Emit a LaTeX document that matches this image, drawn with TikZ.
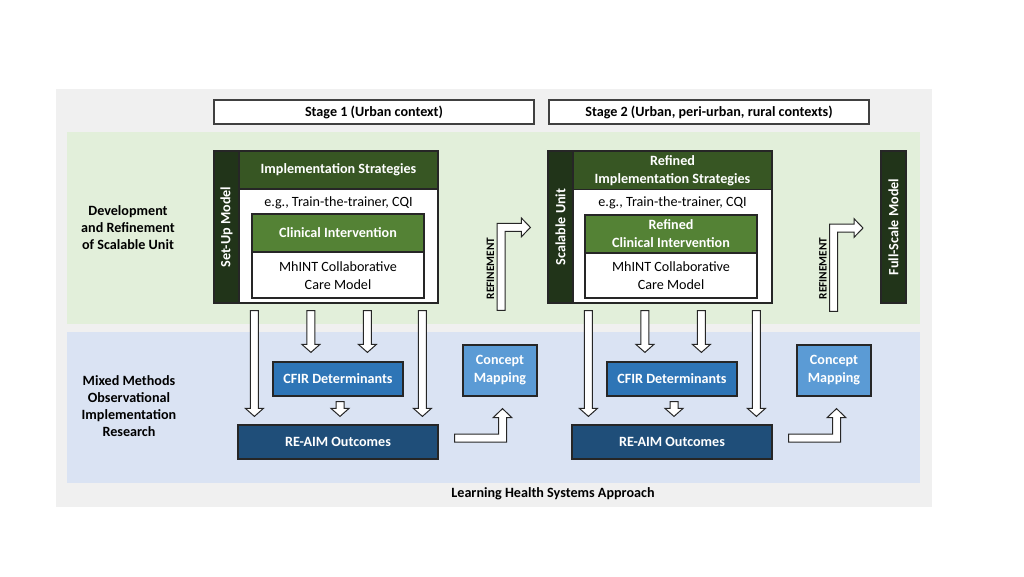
\documentclass[tikz,border=0pt]{standalone}
\usepackage{fontspec}
\setmainfont{Carlito}
\usetikzlibrary{calc}
\definecolor{panelgray}{RGB}{240,240,240}
\definecolor{bandgreen}{RGB}{226,239,218}
\definecolor{bandblue}{RGB}{218,227,243}
\definecolor{deepgreen}{RGB}{33,52,25}
\definecolor{headgreen}{RGB}{55,86,35}
\definecolor{clingreen}{RGB}{84,130,53}
\definecolor{cfirblue}{RGB}{46,117,182}
\definecolor{reaimblue}{RGB}{31,78,121}
\definecolor{mapblue}{RGB}{91,155,213}
\definecolor{edgegray}{RGB}{38,38,38}
\newcommand{\pxu}{0.75pt}
\newcommand{\bodyfont}{\fontsize{10.6}{13.5}\selectfont}

\tikzset{
  sz/.style 2 args={minimum width=#1*\pxu, minimum height=#2*\pxu},
  box/.style={rectangle, draw=edgegray, line width=0.9pt, inner sep=0pt, align=center, font=\bodyfont},
  headbox/.style={box, text=white, font=\bfseries\bodyfont},
  sidebar/.style={box, fill=deepgreen, text=white, font=\bfseries\bodyfont, rotate=90, sz={152}{25}},
  stagebox/.style={box, fill=white, draw=black!75, line width=1.2pt, font=\bfseries\bodyfont, sz={320}{24}},
  plain/.style={align=center, inner sep=0pt, font=\bodyfont},
  boldtext/.style={align=center, inner sep=0pt, font=\bfseries\fontsize{10.6}{12.75}\selectfont},
  reflabel/.style={inner sep=0pt, rotate=90, font=\bfseries\fontsize{8.5}{10}\selectfont},
  blockline/.style={draw=edgegray, fill=white, line width=0.75pt},
  downarrow/.style={blockline, to path={let \p1=(\tikztostart), \p2=(\tikztotarget) in
    (\x1-3pt,\y1) -- (\x1-3pt,\y2+6pt) -- (\x1-6.75pt,\y2+6pt) -- (\x1,\y2)
    -- (\x1+6.75pt,\y2+6pt) -- (\x1+3pt,\y2+6pt) -- (\x1+3pt,\y1) -- cycle}},
  uparrow/.style={blockline, to path={let \p1=(\tikztostart), \p2=(\tikztotarget) in
    (\x1,\y1+3pt) -- (\x2-3pt,\y1+3pt) -- (\x2-3pt,\y2-6.75pt) -- (\x2-7pt,\y2-6.75pt) -- (\x2,\y2)
    -- (\x2+7pt,\y2-6.75pt) -- (\x2+3pt,\y2-6.75pt) -- (\x2+3pt,\y1-3pt) -- (\x1,\y1-3pt) -- cycle}},
  refarrow/.style={blockline, to path={let \p1=(\tikztostart), \p2=(\tikztotarget) in
    (\x1-3pt,\y1) -- (\x1-3pt,\y2+3pt) -- (\x2-6.75pt,\y2+3pt) -- (\x2-6.75pt,\y2+7pt) -- (\x2,\y2)
    -- (\x2-6.75pt,\y2-7pt) -- (\x2-6.75pt,\y2-3pt) -- (\x1+3pt,\y2-3pt) -- (\x1+3pt,\y1) -- cycle}}
}

\begin{document}
\begin{tikzpicture}[x=\pxu, y=-\pxu]
  % page, panel and bands
  \useasboundingbox (0,0) rectangle (1024,576);
  \fill[white] (0,0) rectangle (1024,576);
  \fill[panelgray] (56,89) rectangle (932,507);
  \fill[bandgreen] (67,132) rectangle (920,324);
  \fill[bandblue] (67,332) rectangle (920,483);

  \node[stagebox] (stage1) at (374,112) {Stage 1 (Urban context)};
  \node[stagebox] (stage2) at (709,112) {Stage 2 (Urban, peri-urban, rural contexts)};

  \node[boldtext] (devlabel) at (128,228) {Development\\and Refinement\\of Scalable Unit};
  \node[boldtext] (mixlabel) at (129,406.5) {Mixed Methods\\Observational\\Implementation\\Research};
  \node[boldtext] (lhs) at (553,494) {Learning Health Systems Approach};

  % stage 1 model
  \node[box, fill=white, sz={224}{152}] (setup) at (326,227) {};
  \node[sidebar] (setupbar) at (226.5,227) {Set-Up Model};
  \node[headbox, fill=headgreen, sz={199}{38}] (strat1) at (338.5,170) {Implementation Strategies};
  \node[plain] (eg1) at (338.5,203) {e.g., Train-the-trainer, CQI};
  \node[box, fill=white, sz={172}{84}] (care1) at (338,256) {};
  \node[headbox, fill=clingreen, sz={172}{38}] (clin1) at (338,233) {Clinical Intervention};
  \node[plain] (mhint1) at (338,276) {MhINT Collaborative\\Care Model};

  % stage 2 model
  \node[box, fill=white, sz={224}{152}] (scalable) at (660,227) {};
  \node[sidebar] (scalebar) at (560.5,227) {Scalable Unit};
  \node[headbox, fill=headgreen, sz={199}{38}] (strat2) at (672.5,170.5) {Refined\\Implementation Strategies};
  \node[plain] (eg2) at (672.5,203) {e.g., Train-the-trainer, CQI};
  \node[box, fill=white, sz={172}{83}] (care2) at (671,256.5) {};
  \node[headbox, fill=clingreen, sz={172}{38}] (clin2) at (671,234) {Refined\\Clinical Intervention};
  \node[plain] (mhint2) at (671,276) {MhINT Collaborative\\Care Model};

  \node[sidebar] (fullscale) at (893.5,227) {Full-Scale Model};

  % research boxes
  \node[headbox, fill=cfirblue, sz={130}{34}] (cfir1) at (338,379) {CFIR Determinants};
  \node[headbox, fill=reaimblue, sz={200}{34}] (reaim1) at (338,442) {RE-AIM Outcomes};
  \node[headbox, fill=mapblue, sz={74}{51}] (map1) at (500,370.5) {Concept\\Mapping};
  \node[headbox, fill=cfirblue, sz={130}{34}] (cfir2) at (672,379) {CFIR Determinants};
  \node[headbox, fill=reaimblue, sz={200}{34}] (reaim2) at (672,442) {RE-AIM Outcomes};
  \node[headbox, fill=mapblue, sz={74}{51}] (map2) at (834,370.5) {Concept\\Mapping};

  % block arrows
  \foreach \u/\c/\r/\m in {setup/cfir1/reaim1/map1, scalable/cfir2/reaim2/map2} {
    \draw[downarrow] ($(\u.south west)+(41,7)$) to ($(\r.north west)+(17,-8)$);
    \draw[downarrow] ($(\u.south west)+(97.5,7)$) to ($(\c.north west)+(38.5,-9)$);
    \draw[downarrow] ($(\u.south west)+(154,7)$) to ($(\c.north west)+(95,-9)$);
    \draw[downarrow] ($(\u.south west)+(209,7)$) to ($(\r.north east)+(-15,-8)$);
    \draw[downarrow] ($(\c.south)+(2,5)$) to ($(\r.north)+(2,-8)$);
    \draw[uparrow] ($(\r.east)+(16,-4)$) to ($(\m.south)+(2.5,12)$);
  }
  \draw[refarrow] ($(map1.north)+(1,-34)$) to ($(scalable.north west)+(-17,77)$);
  \draw[refarrow] ($(map2.north)+(-0.5,-33)$) to ($(fullscale.center)+(-30.5,1)$);
  \node[reflabel] (ref1) at (490.5,268.5) {REFINEMENT};
  \node[reflabel] (ref2) at (823,268.5) {REFINEMENT};
\end{tikzpicture}
\end{document}
